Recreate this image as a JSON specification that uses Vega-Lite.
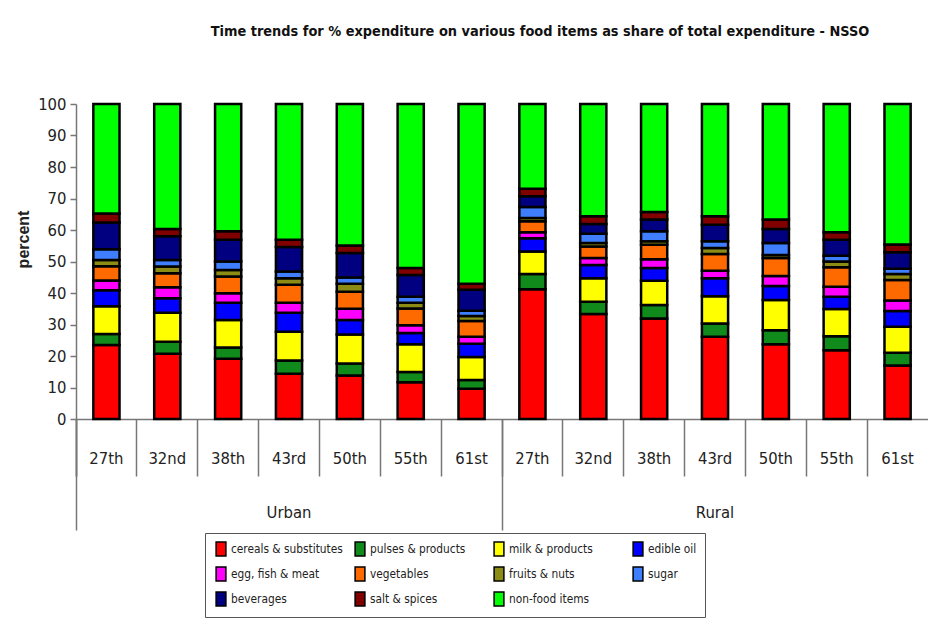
{
  "$schema": "https://vega.github.io/schema/vega-lite/v6.json",
  "autosize": {"type": "none"},
  "padding": {"left": 76, "top": 104, "right": 0, "bottom": 212},
  "width": 852,
  "height": 315,
  "background": "white",
  "config": {
    "view": {"stroke": null},
    "font": "DejaVu Sans Condensed, DejaVu Sans, sans-serif"
  },
  "title": {
    "text": "Time trends for % expenditure on various food items as share of total expenditure - NSSO",
    "anchor": "middle",
    "frame": "group",
    "dx": 38,
    "offset": 43,
    "baseline": "bottom",
    "fontSize": 14.4,
    "fontWeight": "bold",
    "color": "#111"
  },
  "data": {
    "values": [
      {"bar": "Urban 27th", "item": "cereals & substitutes", "value": 23.5},
      {"bar": "Urban 27th", "item": "pulses & products", "value": 3.5},
      {"bar": "Urban 27th", "item": "milk & products", "value": 8.8},
      {"bar": "Urban 27th", "item": "edible oil", "value": 5.1},
      {"bar": "Urban 27th", "item": "egg, fish & meat", "value": 3.1},
      {"bar": "Urban 27th", "item": "vegetables", "value": 4.5},
      {"bar": "Urban 27th", "item": "fruits & nuts", "value": 2.0},
      {"bar": "Urban 27th", "item": "sugar", "value": 3.4},
      {"bar": "Urban 27th", "item": "beverages", "value": 8.5},
      {"bar": "Urban 27th", "item": "salt & spices", "value": 2.8},
      {"bar": "Urban 27th", "item": "non-food items", "value": 34.8},

      {"bar": "Urban 32nd", "item": "cereals & substitutes", "value": 20.7},
      {"bar": "Urban 32nd", "item": "pulses & products", "value": 3.8},
      {"bar": "Urban 32nd", "item": "milk & products", "value": 9.2},
      {"bar": "Urban 32nd", "item": "edible oil", "value": 4.6},
      {"bar": "Urban 32nd", "item": "egg, fish & meat", "value": 3.5},
      {"bar": "Urban 32nd", "item": "vegetables", "value": 4.5},
      {"bar": "Urban 32nd", "item": "fruits & nuts", "value": 2.1},
      {"bar": "Urban 32nd", "item": "sugar", "value": 2.1},
      {"bar": "Urban 32nd", "item": "beverages", "value": 7.5},
      {"bar": "Urban 32nd", "item": "salt & spices", "value": 2.3},
      {"bar": "Urban 32nd", "item": "non-food items", "value": 39.7},

      {"bar": "Urban 38th", "item": "cereals & substitutes", "value": 19.1},
      {"bar": "Urban 38th", "item": "pulses & products", "value": 3.6},
      {"bar": "Urban 38th", "item": "milk & products", "value": 8.7},
      {"bar": "Urban 38th", "item": "edible oil", "value": 5.5},
      {"bar": "Urban 38th", "item": "egg, fish & meat", "value": 3.0},
      {"bar": "Urban 38th", "item": "vegetables", "value": 5.3},
      {"bar": "Urban 38th", "item": "fruits & nuts", "value": 2.1},
      {"bar": "Urban 38th", "item": "sugar", "value": 2.7},
      {"bar": "Urban 38th", "item": "beverages", "value": 6.9},
      {"bar": "Urban 38th", "item": "salt & spices", "value": 2.7},
      {"bar": "Urban 38th", "item": "non-food items", "value": 40.4},

      {"bar": "Urban 43rd", "item": "cereals & substitutes", "value": 14.4},
      {"bar": "Urban 43rd", "item": "pulses & products", "value": 4.2},
      {"bar": "Urban 43rd", "item": "milk & products", "value": 9.1},
      {"bar": "Urban 43rd", "item": "edible oil", "value": 6.0},
      {"bar": "Urban 43rd", "item": "egg, fish & meat", "value": 3.2},
      {"bar": "Urban 43rd", "item": "vegetables", "value": 5.7},
      {"bar": "Urban 43rd", "item": "fruits & nuts", "value": 2.1},
      {"bar": "Urban 43rd", "item": "sugar", "value": 2.1},
      {"bar": "Urban 43rd", "item": "beverages", "value": 7.8},
      {"bar": "Urban 43rd", "item": "salt & spices", "value": 2.3},
      {"bar": "Urban 43rd", "item": "non-food items", "value": 43.1},

      {"bar": "Urban 50th", "item": "cereals & substitutes", "value": 13.8},
      {"bar": "Urban 50th", "item": "pulses & products", "value": 3.8},
      {"bar": "Urban 50th", "item": "milk & products", "value": 9.2},
      {"bar": "Urban 50th", "item": "edible oil", "value": 4.6},
      {"bar": "Urban 50th", "item": "egg, fish & meat", "value": 3.6},
      {"bar": "Urban 50th", "item": "vegetables", "value": 5.4},
      {"bar": "Urban 50th", "item": "fruits & nuts", "value": 2.5},
      {"bar": "Urban 50th", "item": "sugar", "value": 2.0},
      {"bar": "Urban 50th", "item": "beverages", "value": 7.8},
      {"bar": "Urban 50th", "item": "salt & spices", "value": 2.4},
      {"bar": "Urban 50th", "item": "non-food items", "value": 44.9},

      {"bar": "Urban 55th", "item": "cereals & substitutes", "value": 11.7},
      {"bar": "Urban 55th", "item": "pulses & products", "value": 3.2},
      {"bar": "Urban 55th", "item": "milk & products", "value": 8.8},
      {"bar": "Urban 55th", "item": "edible oil", "value": 3.6},
      {"bar": "Urban 55th", "item": "egg, fish & meat", "value": 2.5},
      {"bar": "Urban 55th", "item": "vegetables", "value": 5.3},
      {"bar": "Urban 55th", "item": "fruits & nuts", "value": 1.8},
      {"bar": "Urban 55th", "item": "sugar", "value": 1.9},
      {"bar": "Urban 55th", "item": "beverages", "value": 6.9},
      {"bar": "Urban 55th", "item": "salt & spices", "value": 2.2},
      {"bar": "Urban 55th", "item": "non-food items", "value": 52.1},

      {"bar": "Urban 61st", "item": "cereals & substitutes", "value": 9.6},
      {"bar": "Urban 61st", "item": "pulses & products", "value": 2.8},
      {"bar": "Urban 61st", "item": "milk & products", "value": 7.3},
      {"bar": "Urban 61st", "item": "edible oil", "value": 4.2},
      {"bar": "Urban 61st", "item": "egg, fish & meat", "value": 2.2},
      {"bar": "Urban 61st", "item": "vegetables", "value": 5.0},
      {"bar": "Urban 61st", "item": "fruits & nuts", "value": 1.6},
      {"bar": "Urban 61st", "item": "sugar", "value": 1.7},
      {"bar": "Urban 61st", "item": "beverages", "value": 6.6},
      {"bar": "Urban 61st", "item": "salt & spices", "value": 1.9},
      {"bar": "Urban 61st", "item": "non-food items", "value": 57.1},

      {"bar": "Rural 27th", "item": "cereals & substitutes", "value": 41.2},
      {"bar": "Rural 27th", "item": "pulses & products", "value": 4.8},
      {"bar": "Rural 27th", "item": "milk & products", "value": 7.2},
      {"bar": "Rural 27th", "item": "edible oil", "value": 4.2},
      {"bar": "Rural 27th", "item": "egg, fish & meat", "value": 1.9},
      {"bar": "Rural 27th", "item": "vegetables", "value": 3.5},
      {"bar": "Rural 27th", "item": "fruits & nuts", "value": 1.0},
      {"bar": "Rural 27th", "item": "sugar", "value": 3.5},
      {"bar": "Rural 27th", "item": "beverages", "value": 3.4},
      {"bar": "Rural 27th", "item": "salt & spices", "value": 2.4},
      {"bar": "Rural 27th", "item": "non-food items", "value": 26.9},

      {"bar": "Rural 32nd", "item": "cereals & substitutes", "value": 33.3},
      {"bar": "Rural 32nd", "item": "pulses & products", "value": 3.9},
      {"bar": "Rural 32nd", "item": "milk & products", "value": 7.5},
      {"bar": "Rural 32nd", "item": "edible oil", "value": 4.2},
      {"bar": "Rural 32nd", "item": "egg, fish & meat", "value": 2.2},
      {"bar": "Rural 32nd", "item": "vegetables", "value": 3.7},
      {"bar": "Rural 32nd", "item": "fruits & nuts", "value": 1.1},
      {"bar": "Rural 32nd", "item": "sugar", "value": 2.9},
      {"bar": "Rural 32nd", "item": "beverages", "value": 3.1},
      {"bar": "Rural 32nd", "item": "salt & spices", "value": 2.5},
      {"bar": "Rural 32nd", "item": "non-food items", "value": 35.6},

      {"bar": "Rural 38th", "item": "cereals & substitutes", "value": 31.9},
      {"bar": "Rural 38th", "item": "pulses & products", "value": 4.3},
      {"bar": "Rural 38th", "item": "milk & products", "value": 7.7},
      {"bar": "Rural 38th", "item": "edible oil", "value": 4.0},
      {"bar": "Rural 38th", "item": "egg, fish & meat", "value": 2.8},
      {"bar": "Rural 38th", "item": "vegetables", "value": 4.6},
      {"bar": "Rural 38th", "item": "fruits & nuts", "value": 1.1},
      {"bar": "Rural 38th", "item": "sugar", "value": 3.2},
      {"bar": "Rural 38th", "item": "beverages", "value": 3.7},
      {"bar": "Rural 38th", "item": "salt & spices", "value": 2.4},
      {"bar": "Rural 38th", "item": "non-food items", "value": 34.3},

      {"bar": "Rural 43rd", "item": "cereals & substitutes", "value": 26.1},
      {"bar": "Rural 43rd", "item": "pulses & products", "value": 4.2},
      {"bar": "Rural 43rd", "item": "milk & products", "value": 8.7},
      {"bar": "Rural 43rd", "item": "edible oil", "value": 5.7},
      {"bar": "Rural 43rd", "item": "egg, fish & meat", "value": 2.4},
      {"bar": "Rural 43rd", "item": "vegetables", "value": 5.3},
      {"bar": "Rural 43rd", "item": "fruits & nuts", "value": 1.9},
      {"bar": "Rural 43rd", "item": "sugar", "value": 2.1},
      {"bar": "Rural 43rd", "item": "beverages", "value": 5.3},
      {"bar": "Rural 43rd", "item": "salt & spices", "value": 2.7},
      {"bar": "Rural 43rd", "item": "non-food items", "value": 35.6},

      {"bar": "Rural 50th", "item": "cereals & substitutes", "value": 23.7},
      {"bar": "Rural 50th", "item": "pulses & products", "value": 4.5},
      {"bar": "Rural 50th", "item": "milk & products", "value": 9.6},
      {"bar": "Rural 50th", "item": "edible oil", "value": 4.4},
      {"bar": "Rural 50th", "item": "egg, fish & meat", "value": 3.2},
      {"bar": "Rural 50th", "item": "vegetables", "value": 5.7},
      {"bar": "Rural 50th", "item": "fruits & nuts", "value": 1.0},
      {"bar": "Rural 50th", "item": "sugar", "value": 3.8},
      {"bar": "Rural 50th", "item": "beverages", "value": 4.4},
      {"bar": "Rural 50th", "item": "salt & spices", "value": 3.0},
      {"bar": "Rural 50th", "item": "non-food items", "value": 36.7},

      {"bar": "Rural 55th", "item": "cereals & substitutes", "value": 21.8},
      {"bar": "Rural 55th", "item": "pulses & products", "value": 4.5},
      {"bar": "Rural 55th", "item": "milk & products", "value": 8.6},
      {"bar": "Rural 55th", "item": "edible oil", "value": 3.9},
      {"bar": "Rural 55th", "item": "egg, fish & meat", "value": 3.2},
      {"bar": "Rural 55th", "item": "vegetables", "value": 6.2},
      {"bar": "Rural 55th", "item": "fruits & nuts", "value": 1.8},
      {"bar": "Rural 55th", "item": "sugar", "value": 1.8},
      {"bar": "Rural 55th", "item": "beverages", "value": 5.1},
      {"bar": "Rural 55th", "item": "salt & spices", "value": 2.4},
      {"bar": "Rural 55th", "item": "non-food items", "value": 40.7},

      {"bar": "Rural 61st", "item": "cereals & substitutes", "value": 17.0},
      {"bar": "Rural 61st", "item": "pulses & products", "value": 4.0},
      {"bar": "Rural 61st", "item": "milk & products", "value": 8.3},
      {"bar": "Rural 61st", "item": "edible oil", "value": 5.0},
      {"bar": "Rural 61st", "item": "egg, fish & meat", "value": 3.3},
      {"bar": "Rural 61st", "item": "vegetables", "value": 6.5},
      {"bar": "Rural 61st", "item": "fruits & nuts", "value": 1.9},
      {"bar": "Rural 61st", "item": "sugar", "value": 1.7},
      {"bar": "Rural 61st", "item": "beverages", "value": 5.2},
      {"bar": "Rural 61st", "item": "salt & spices", "value": 2.5},
      {"bar": "Rural 61st", "item": "non-food items", "value": 44.6}
    ]
  },
  "transform": [
    {"calculate": "indexof(['cereals & substitutes','pulses & products','milk & products','edible oil','egg, fish & meat','vegetables','fruits & nuts','sugar','beverages','salt & spices','non-food items'], datum.item)", "as": "stackOrder"}
  ],
  "layer": [
    {
      "mark": {"type": "bar", "width": {"band": 0.43}, "stroke": "black", "strokeWidth": 2.5},
      "encoding": {
        "x": {
          "field": "bar", "type": "nominal",
          "sort": ["Urban 27th","Urban 32nd","Urban 38th","Urban 43rd","Urban 50th","Urban 55th","Urban 61st","Rural 27th","Rural 32nd","Rural 38th","Rural 43rd","Rural 50th","Rural 55th","Rural 61st"],
          "scale": {"paddingInner": 0, "paddingOuter": 0},
          "axis": {
            "orient": "bottom", "title": null, "grid": false,
            "bandPosition": 0, "tickExtra": true, "tickSize": 57,
            "tickColor": "#777", "tickWidth": 1.5,
            "domainColor": "#777", "domainWidth": 1.5,
            "labelAngle": 0, "labelAlign": "center", "labelBaseline": "middle",
            "labelPadding": -18, "labelFontSize": 16.5, "labelColor": "#222",
            "labelExpr": "split(datum.value, ' ')[1]"
          }
        },
        "y": {
          "field": "value", "type": "quantitative", "stack": "zero",
          "scale": {"domain": [0, 100], "nice": false},
          "axis": {
            "title": "percent", "grid": false,
            "values": [0,10,20,30,40,50,60,70,80,90,100],
            "tickSize": 6, "tickColor": "#777", "tickWidth": 1.5,
            "domainColor": "#777", "domainWidth": 1.5,
            "labelPadding": 4, "labelFontSize": 16.5, "labelColor": "#222",
            "titleFont": "Liberation Sans, sans-serif", "titleFontWeight": "bold", "titleFontSize": 16,
            "titlePadding": 6, "titleColor": "#222", "titleY": 135
          }
        },
        "order": {"field": "stackOrder", "type": "quantitative", "sort": "ascending"},
        "color": {
          "field": "item", "type": "nominal",
          "sort": ["cereals & substitutes","pulses & products","milk & products","edible oil","egg, fish & meat","vegetables","fruits & nuts","sugar","beverages","salt & spices","non-food items"],
          "scale": {
            "domain": ["cereals & substitutes","pulses & products","milk & products","edible oil","egg, fish & meat","vegetables","fruits & nuts","sugar","beverages","salt & spices","non-food items"],
            "range": ["#ff0000","#118a1c","#ffff00","#0000ff","#ff00ff","#ff6a00","#8c8c14","#3f7fff","#000080","#800000","#00ff00"]
          },
          "legend": {
            "orient": "none", "legendX": 129, "legendY": 429,
            "title": null, "columns": 4, "direction": "horizontal", "gridAlign": "all",
            "strokeColor": "#555", "padding": 8,
            "symbolType": "M-0.7,-1H0.7V1H-0.7Z", "symbolSize": 196,
            "symbolStrokeColor": "black", "symbolStrokeWidth": 1.5, "symbolOpacity": 1,
            "labelFontSize": 11.8, "labelOffset": 2, "labelLimit": 0, "labelColor": "#222",
            "rowPadding": 5, "columnPadding": 9
          }
        }
      }
    },
    {
      "mark": {"type": "bar", "opacity": 0},
      "encoding": {
        "x": {
          "field": "bar", "type": "nominal",
          "sort": ["Urban 27th","Urban 32nd","Urban 38th","Urban 43rd","Urban 50th","Urban 55th","Urban 61st","Rural 27th","Rural 32nd","Rural 38th","Rural 43rd","Rural 50th","Rural 55th","Rural 61st"],
          "axis": {
            "orient": "bottom", "title": null, "grid": false, "domain": false, "labels": false,
            "values": ["Urban 27th", "Rural 27th"], "bandPosition": 0,
            "tickSize": 111, "tickColor": "#777", "tickWidth": 1.5
          }
        }
      }
    },
    {
      "mark": {"type": "bar", "opacity": 0},
      "encoding": {
        "x": {
          "field": "bar", "type": "nominal",
          "sort": ["Urban 27th","Urban 32nd","Urban 38th","Urban 43rd","Urban 50th","Urban 55th","Urban 61st","Rural 27th","Rural 32nd","Rural 38th","Rural 43rd","Rural 50th","Rural 55th","Rural 61st"],
          "axis": {
            "orient": "bottom", "title": null, "grid": false, "domain": false, "ticks": false,
            "values": ["Urban 43rd", "Rural 43rd"],
            "labelAngle": 0, "labelAlign": "center", "labelBaseline": "middle",
            "labelPadding": 93, "labelFontSize": 16.5, "labelColor": "#222",
            "labelExpr": "split(datum.value, ' ')[0]"
          }
        }
      }
    }
  ],
  "resolve": {"axis": {"x": "independent"}}
}
